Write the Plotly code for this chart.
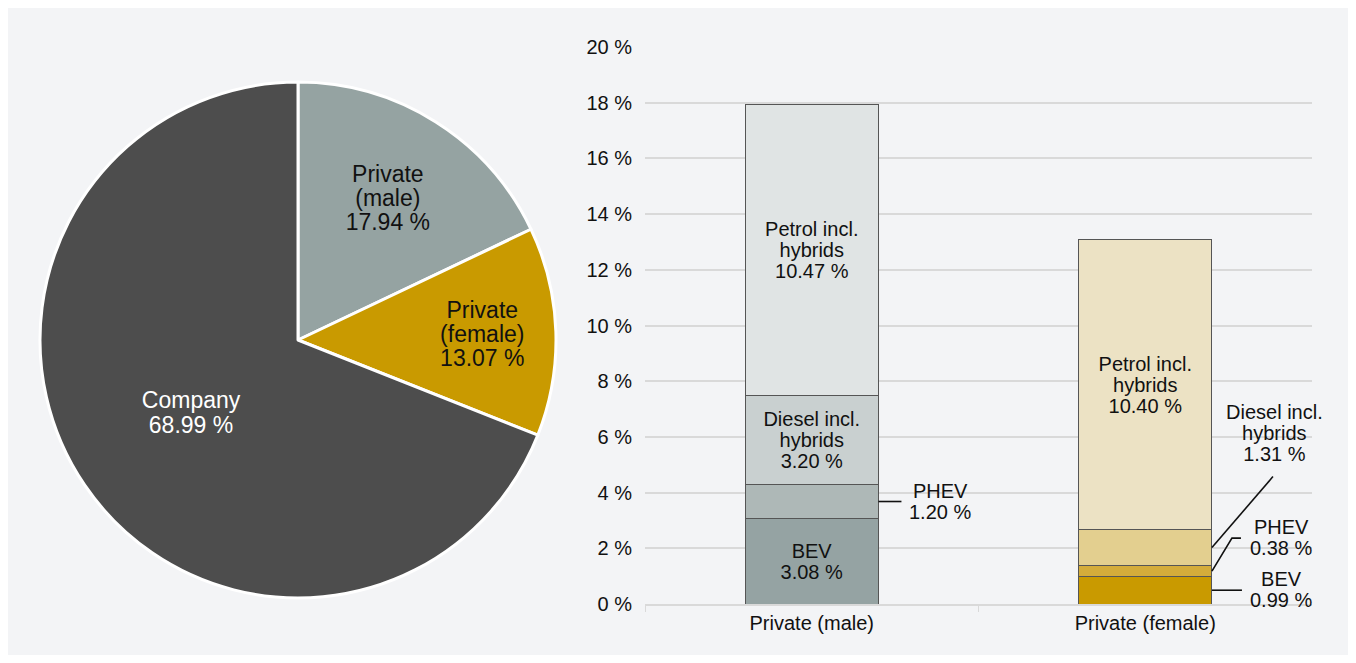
import plotly.graph_objects as go

# ---- data ----
pie_labels = ["Private<br>(male)", "Private<br>(female)", "Company"]
pie_values = [17.94, 13.07, 68.99]
pie_colors = ["#95a3a2", "#c99a00", "#4d4d4d"]
pie_text_colors = ["#111111", "#111111", "#ffffff"]

categories = ["Private (male)", "Private (female)"]
segments = ["BEV", "PHEV", "Diesel incl.<br>hybrids", "Petrol incl.<br>hybrids"]
values_male = [3.08, 1.20, 3.20, 10.47]
values_female = [0.99, 0.38, 1.31, 10.40]
colors_male = ["#95a3a3", "#aeb8b7", "#c9d0d0", "#e0e4e4"]
colors_female = ["#c99a00", "#d4ac3a", "#e3cf8f", "#ece2c4"]
inside_male = [True, False, True, True]
inside_female = [False, False, False, True]
y_ticks = [0, 2, 4, 6, 8, 10, 12, 14, 16, 18, 20]

FONT = "Arial, Liberation Sans, sans-serif"
BG = "#f3f4f6"
GRID = "#d9d9d9"
W, H = 1340, 647
SPACING = 1.05  # line spacing in em of the visible font size
BAR_W = 0.4


def tight(text, size):
    """Wrap each line in a span so that line spacing is close to 1 em of the visible size."""
    return "<br>".join(f'<span style="font-size:{size}px">{ln}</span>'
                       for ln in text.split("<br>"))


def base(size):
    return size * SPACING / 1.3


fig = go.Figure()

pie_text = [tight(f"{lab}<br>{val:.2f} %", 23) for lab, val in zip(pie_labels, pie_values)]
fig.add_trace(go.Pie(
    labels=pie_labels, values=pie_values, sort=False, direction="clockwise",
    rotation=0,
    marker=dict(colors=pie_colors, line=dict(color="white", width=3)),
    text=pie_text, textinfo="text",
    textposition="inside", insidetextorientation="horizontal",
    textfont=dict(family=FONT, size=base(23), color=pie_text_colors),
    domain=dict(x=[32/W, 548/W], y=[57/H, 573/H]),
    showlegend=False, hoverinfo="label+value",
))

for i, seg in enumerate(segments):
    vals = [values_male[i], values_female[i]]
    txt = [
        tight(f"{seg}<br>{values_male[i]:.2f} %", 20) if inside_male[i] else "",
        tight(f"{seg}<br>{values_female[i]:.2f} %", 20) if inside_female[i] else "",
    ]
    fig.add_trace(go.Bar(
        x=categories, y=vals, name=seg.replace("<br>", " "),
        marker=dict(color=[colors_male[i], colors_female[i]],
                    line=dict(color="#555555", width=1)),
        text=txt, textposition="inside", insidetextanchor="middle",
        textangle=0, constraintext="none",
        textfont=dict(family=FONT, size=base(20), color="#111111"),
        width=BAR_W, showlegend=False,
    ))


def seg_anchor(cat_idx, seg_idx, vals):
    """Right edge of the bar at the middle of a segment (data coords)."""
    return cat_idx + BAR_W / 2, sum(vals[:seg_idx]) + vals[seg_idx] / 2


def leader(x, y, pts):
    """Leader line anchored at a bar edge; pts are pixel offsets (right, up)."""
    path = "M0,0 " + " ".join(f"L{px},{py}" for px, py in pts)
    fig.add_shape(
        type="path", path=path, xref="x", yref="y",
        xsizemode="pixel", ysizemode="pixel", xanchor=x, yanchor=y,
        line=dict(color="#111111", width=1.6), layer="above",
    )


def label(x, y, text, dx, dy):
    fig.add_annotation(
        x=x, y=y, xref="x", yref="y", xshift=dx, yshift=dy,
        text=tight(text, 20), showarrow=False,
        font=dict(family=FONT, size=base(20), color="#111111"),
        align="center", xanchor="center", yanchor="middle",
    )


# male PHEV
x, y = seg_anchor(0, 1, values_male)
leader(x, y, [(23, 0)])
label(x, y, f"{segments[1]}<br>{values_male[1]:.2f} %", 62, 0)

# female Diesel
x, y = seg_anchor(1, 2, values_female)
leader(x, y, [(61, 71)])
label(x, y, f"{segments[2]}<br>{values_female[2]:.2f} %", 63, 115)

# female PHEV (elbow)
x, y = seg_anchor(1, 1, values_female)
leader(x, y, [(20, 33), (29, 33)])
label(x, y, f"{segments[1]}<br>{values_female[1]:.2f} %", 69, 34)

# female BEV
x, y = seg_anchor(1, 0, values_female)
leader(x, y, [(30, 0)])
label(x, y, f"{segments[0]}<br>{values_female[0]:.2f} %", 69, 1)

fig.update_layout(
    width=W, height=H, autosize=False,
    margin=dict(l=0, r=0, t=0, b=0, pad=0, autoexpand=False),
    paper_bgcolor=BG, plot_bgcolor=BG,
    barmode="stack",
    font=dict(family=FONT, size=20, color="#111111"),
    xaxis=dict(domain=[637/W, 1304/W], range=[-0.5, 1.5], showgrid=False,
               automargin=False,
               showline=True, linecolor=GRID, linewidth=2,
               ticks="outside", tickson="boundaries", ticklen=6,
               tickcolor=GRID, tickwidth=1,
               tickfont=dict(size=20, family=FONT, color="#111111")),
    yaxis=dict(domain=[51/H, 608/H], range=[0, 20], automargin=False,
               tickvals=y_ticks, ticktext=[f"{v} %" for v in y_ticks],
               showgrid=True, gridcolor=GRID, gridwidth=2,
               zeroline=False, ticks="", ticklabelstandoff=12,
               tickfont=dict(size=20, family=FONT, color="#111111")),
)

fig.write_html("out.html")
